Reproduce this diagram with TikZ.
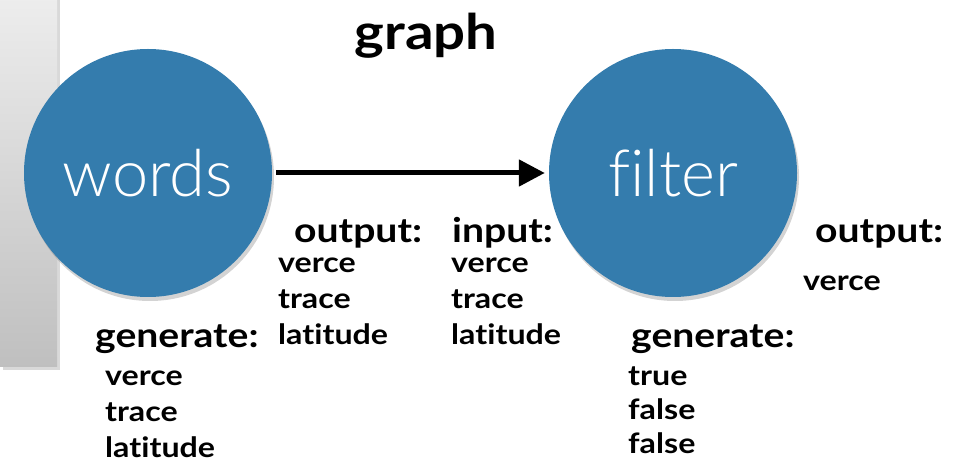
\documentclass[tikz,border=0pt]{standalone}
\usepackage{fontspec}
\setmainfont{Lato}[FakeStretch=1.15,Ligatures=NoCommon]
\newfontfamily\thinfont{Lato Light}[Ligatures=NoCommon]
\usepackage{tikz}
\usetikzlibrary{arrows.meta,positioning,shadows}
\definecolor{nodeblue}{RGB}{52,124,173}

\begin{document}
\begin{tikzpicture}[x=1pt,y=-1pt,node distance=525pt,on grid,
    task/.style={circle,fill=nodeblue,minimum size=248pt,inner sep=0pt,text=white,
      font=\thinfont\fontsize{65}{65}\selectfont,
      drop shadow={shadow xshift=2pt,shadow yshift=-4pt,opacity=0.35}},
    head/.style={anchor=base west,inner sep=0pt,font=\bfseries\fontsize{34}{34}\selectfont},
    item/.style={anchor=base west,inner sep=0pt,font=\bfseries\fontsize{28}{28}\selectfont}]
  \useasboundingbox (0,0) rectangle (959,462);
  % side panel
  \shade[top color=black!7,bottom color=black!25,
    drop shadow={shadow xshift=3pt,shadow yshift=-3pt,opacity=0.3}] (0,-5) rectangle (57,367);

  \node[task] (words) at (148,173) {words};
  \node[task] (filter) [right=of words] {filter};
  \node[font=\bfseries\fontsize{49}{49}\selectfont] (title) at (426,36) {graph};

  \draw[line width=5pt,-{Triangle[length=26pt,width=26pt]},shorten <=4pt,shorten >=4pt]
    (words) -- (filter);

  % headings
  \node[head] (wout) at (294,243) {output:};
  \node[head] (fin) at (452,243) {input:};
  \node[head] (fout) at (815,243) {output:};
  \node[head] (wgen) at (95,348) {generate:};
  \node[head] (fgen) at (631,348) {generate:};

  % values
  \foreach \w [count=\i] in {verce,trace,latitude} {
    \node[item] (wout\i) at (278,237+36*\i) {\w};
    \node[item] (fin\i) at (451,237+36*\i) {\w};
    \node[item] (wgen\i) at (105,349+36*\i) {\w};
  }
  \node[item] (fout1) at (803,291) {verce};
  \foreach \w [count=\i] in {true,false,false}
    \node[item] (fgen\i) at (628,351+34*\i) {\w};
\end{tikzpicture}
\end{document}
